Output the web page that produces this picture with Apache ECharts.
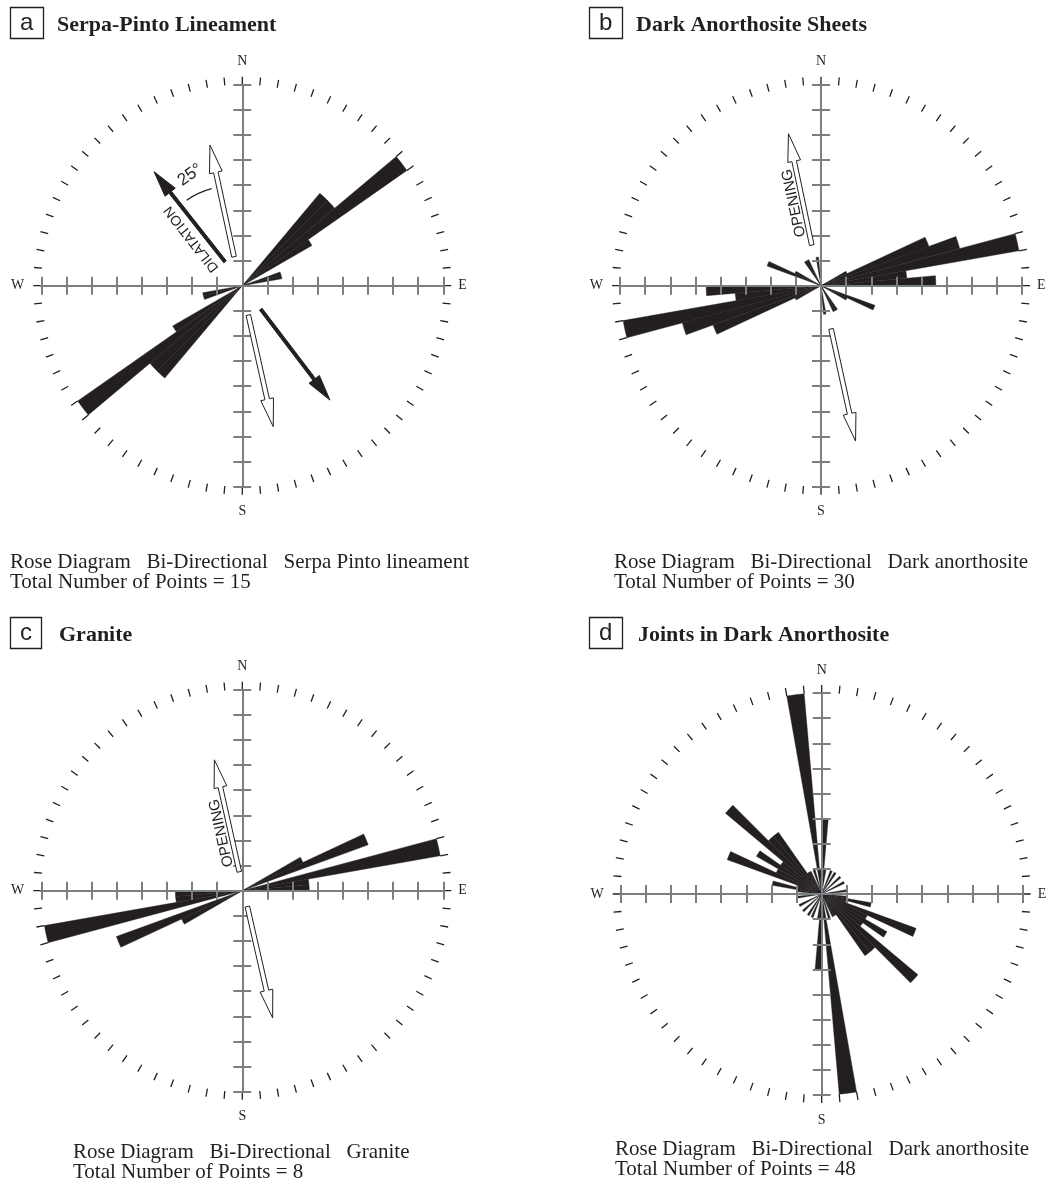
<!DOCTYPE html>
<html>
<head>
<meta charset="utf-8">
<script src="https://cdn.jsdelivr.net/npm/echarts@6/dist/echarts.min.js"></script>
<style>
  html, body { margin: 0; background: #fff; }
  #chart { width: 1050px; height: 1180px; }
</style>
</head>
<body>
<div id="chart"></div>
<script>
// 5 degree bins, azimuth of bin start (0-180), bi-directional so mirrored to +180
const serpaAz = [40, 45, 50, 55, 70, 75];
const serpaCount = [3, 3, 5, 2, 1, 1];

const sheetAz = [60, 65, 70, 75, 80, 85, 110, 115, 145, 150, 170];
const sheetCount = [1, 4, 5, 7, 3, 4, 2, 1, 1, 1, 1];

const graniteAz = [60, 65, 75, 80, 85];
const graniteCount = [1, 2, 3, 1, 1];

const jointAz = [0, 5, 20, 30, 45, 60, 80, 95, 100, 105, 110, 115, 120, 125, 130, 135, 140, 145, 150, 160, 170, 175];
const jointCount = [3, 1, 1, 1, 1, 1, 1, 1, 2, 1, 4, 2, 3, 2, 5, 3, 3, 1, 1, 1, 8, 1];

const letters = ['a', 'b', 'c', 'd'];
const titles = ['Serpa-Pinto Lineament', 'Dark Anorthosite Sheets', 'Granite', 'Joints in Dark Anorthosite'];
const footers = [
  'Rose Diagram   Bi-Directional   Serpa Pinto lineament',
  'Rose Diagram   Bi-Directional   Dark anorthosite',
  'Rose Diagram   Bi-Directional   Granite',
  'Rose Diagram   Bi-Directional   Dark anorthosite'
];
const totals = [15, 30, 8, 48];

// arrows: [x1, y1, x2, y2, solid] as fraction of the plot radius (tail -> tip)
const serpaArrows = [
  [-0.041, 0.144, -0.161, 0.700, 0],
  [-0.086, 0.119, -0.439, 0.567, 1],
  [0.030, -0.146, 0.154, -0.701, 0],
  [0.092, -0.117, 0.436, -0.569, 1]
];
const sheetArrows = [
  [-0.046, 0.202, -0.162, 0.756, 0],
  [0.050, -0.215, 0.172, -0.773, 0]
];
const graniteArrows = [
  [-0.015, 0.094, -0.139, 0.651, 0],
  [0.025, -0.079, 0.151, -0.633, 0]
];

const panels = [
  { az: serpaAz, n: serpaCount, arrows: serpaArrows, center: [242.3, 285.7], box: [10, 7], titleX: 57, titleY: 12, foot: [10, 553] },
  { az: sheetAz, n: sheetCount, arrows: sheetArrows, center: [821, 285.7], box: [589, 7], titleX: 636, titleY: 12, foot: [614, 553] },
  { az: graniteAz, n: graniteCount, arrows: graniteArrows, center: [242.3, 890.7], box: [10, 617], titleX: 59, titleY: 622, foot: [73, 1143] },
  { az: jointAz, n: jointCount, arrows: [], center: [821.7, 894], box: [589, 617], titleX: 638, titleY: 622, foot: [615, 1140] }
];

const R = 201;
const INK = '#231f20';
const GRAY = '#7a7f84';
const SERIF = '"Liberation Serif", "Times New Roman", serif';
const SANS = '"Liberation Sans", Arial, sans-serif';

const binLabels = [];
for (let a = 0; a < 360; a += 5) binLabels.push(String(a));

function renderArrow(params, api) {
  const p1 = api.coord([api.value(0), api.value(1)]);
  const p2 = api.coord([api.value(2), api.value(3)]);
  const solid = api.value(4) === 1;
  const dx = p2[0] - p1[0], dy = p2[1] - p1[1];
  const len = Math.hypot(dx, dy);
  const ux = dx / len, uy = dy / len, nx = -uy, ny = ux;
  const headLen = solid ? 26 : 28;
  const headW = 6.5;
  const shaftW = solid ? 1.6 : 2.3;
  const bx = p2[0] - ux * headLen, by = p2[1] - uy * headLen;
  const off = (x, y, k) => [x + nx * k, y + ny * k];
  const points = [
    off(p1[0], p1[1], shaftW), off(bx, by, shaftW), off(bx, by, headW), p2,
    off(bx, by, -headW), off(bx, by, -shaftW), off(p1[0], p1[1], -shaftW)
  ];
  return {
    type: 'polygon',
    shape: { points: points },
    style: { fill: solid ? INK : '#fff', stroke: INK, lineWidth: 1 }
  };
}

const option = {
  animation: false,
  backgroundColor: '#fff',
  title: [], polar: [], angleAxis: [], radiusAxis: [],
  grid: [], xAxis: [], yAxis: [], series: [], graphic: []
};

panels.forEach((p, i) => {
  const M = Math.max(...p.n);
  const vals = new Array(72).fill(null);
  p.az.forEach((a, k) => {
    vals[a / 5] = p.n[k];
    vals[a / 5 + 36] = p.n[k];
  });
  const ticks = [];
  for (let k = -8; k <= 8; k++) if (k !== 0) ticks.push(k * M / 8);
  const [cx, cy] = p.center;

  option.polar.push({ center: [cx, cy], radius: R });
  option.angleAxis.push({
    polarIndex: i, type: 'category', data: binLabels,
    startAngle: 90, clockwise: true, boundaryGap: true,
    axisLine: { show: false },
    axisTick: { show: true, interval: 0, length: 8, lineStyle: { color: INK, width: 1.3 } },
    axisLabel: { show: false }, splitLine: { show: false }
  });
  option.radiusAxis.push({
    polarIndex: i, type: 'value', min: 0, max: M,
    axisLine: { show: false }, axisTick: { show: false },
    axisLabel: { show: false }, splitLine: { show: false }
  });
  option.series.push({
    type: 'bar', coordinateSystem: 'polar', polarIndex: i,
    data: vals, barCategoryGap: '0%', silent: true, z: 1,
    itemStyle: { color: INK, borderColor: INK, borderWidth: 0.4 }
  });

  option.grid.push({ left: cx - R, top: cy - R, width: 2 * R, height: 2 * R });
  const axisBase = {
    gridIndex: i, type: 'value', min: -M, max: M, interval: M / 8, z: 5,
    axisLine: { onZero: true, lineStyle: { color: GRAY, width: 2 } },
    axisTick: { show: true, length: 9, customValues: ticks, lineStyle: { color: GRAY, width: 2 } },
    axisLabel: { show: false }, splitLine: { show: false },
    nameTextStyle: { fontFamily: SERIF, fontSize: 14, color: INK }
  };
  option.xAxis.push(Object.assign({}, axisBase, { position: 'bottom', name: 'E', nameLocation: 'end', nameGap: 15 }));
  option.xAxis.push(Object.assign({}, axisBase, { position: 'top', name: 'W', nameLocation: 'start', nameGap: 17 }));
  option.yAxis.push(Object.assign({}, axisBase, { position: 'left', name: 'N', nameLocation: 'end', nameGap: 16 }));
  option.yAxis.push(Object.assign({}, axisBase, { position: 'right', name: 'S', nameLocation: 'start', nameGap: 18 }));

  if (p.arrows.length) {
    option.series.push({
      type: 'custom', coordinateSystem: 'cartesian2d',
      xAxisIndex: 2 * i, yAxisIndex: 2 * i, silent: true, z: 6,
      data: p.arrows.map(r => [r[0] * M, r[1] * M, r[2] * M, r[3] * M, r[4]]),
      renderItem: renderArrow
    });
  }

  option.title.push({
    text: letters[i], left: p.box[0], top: p.box[1],
    padding: [1, 10, 1, 10], borderWidth: 1.3, borderColor: INK,
    textStyle: { fontFamily: SANS, fontSize: 24, fontWeight: 'normal', color: INK, lineHeight: 30 }
  });
  option.title.push({
    text: titles[i], left: p.titleX, top: p.titleY, padding: 0,
    textStyle: { fontFamily: SERIF, fontSize: 22, fontWeight: 'bold', color: INK, lineHeight: 26 }
  });
  option.title.push({
    text: footers[i] + '\nTotal Number of Points = ' + totals[i],
    left: p.foot[0], top: p.foot[1], padding: 0,
    textStyle: { fontFamily: SERIF, fontSize: 21, fontWeight: 'normal', color: INK, lineHeight: 19.5 }
  });
});

const deg = Math.PI / 180;
option.graphic = [
  { type: 'text', x: 191.5, y: 239, rotation: 128 * deg,
    style: { text: 'DILATATION', fontFamily: SANS, fontSize: 14, fill: INK, align: 'center', verticalAlign: 'middle' } },
  { type: 'text', x: 190, y: 175, rotation: 35 * deg,
    style: { text: '25°', fontFamily: SANS, fontSize: 17, fill: INK, align: 'center', verticalAlign: 'middle' } },
  { type: 'arc', shape: { cx: 232, cy: 265, r: 79, startAngle: 235 * deg, endAngle: 255 * deg, clockwise: true },
    style: { stroke: INK, lineWidth: 1.3, fill: null } },
  { type: 'text', x: 794, y: 203, rotation: 101.8 * deg,
    style: { text: 'OPENING', fontFamily: SANS, fontSize: 15, fill: INK, align: 'center', verticalAlign: 'middle' } },
  { type: 'text', x: 221.5, y: 833, rotation: 102.5 * deg,
    style: { text: 'OPENING', fontFamily: SANS, fontSize: 15, fill: INK, align: 'center', verticalAlign: 'middle' } }
];

const chart = echarts.init(document.getElementById('chart'));
chart.setOption(option);
</script>
</body>
</html>
